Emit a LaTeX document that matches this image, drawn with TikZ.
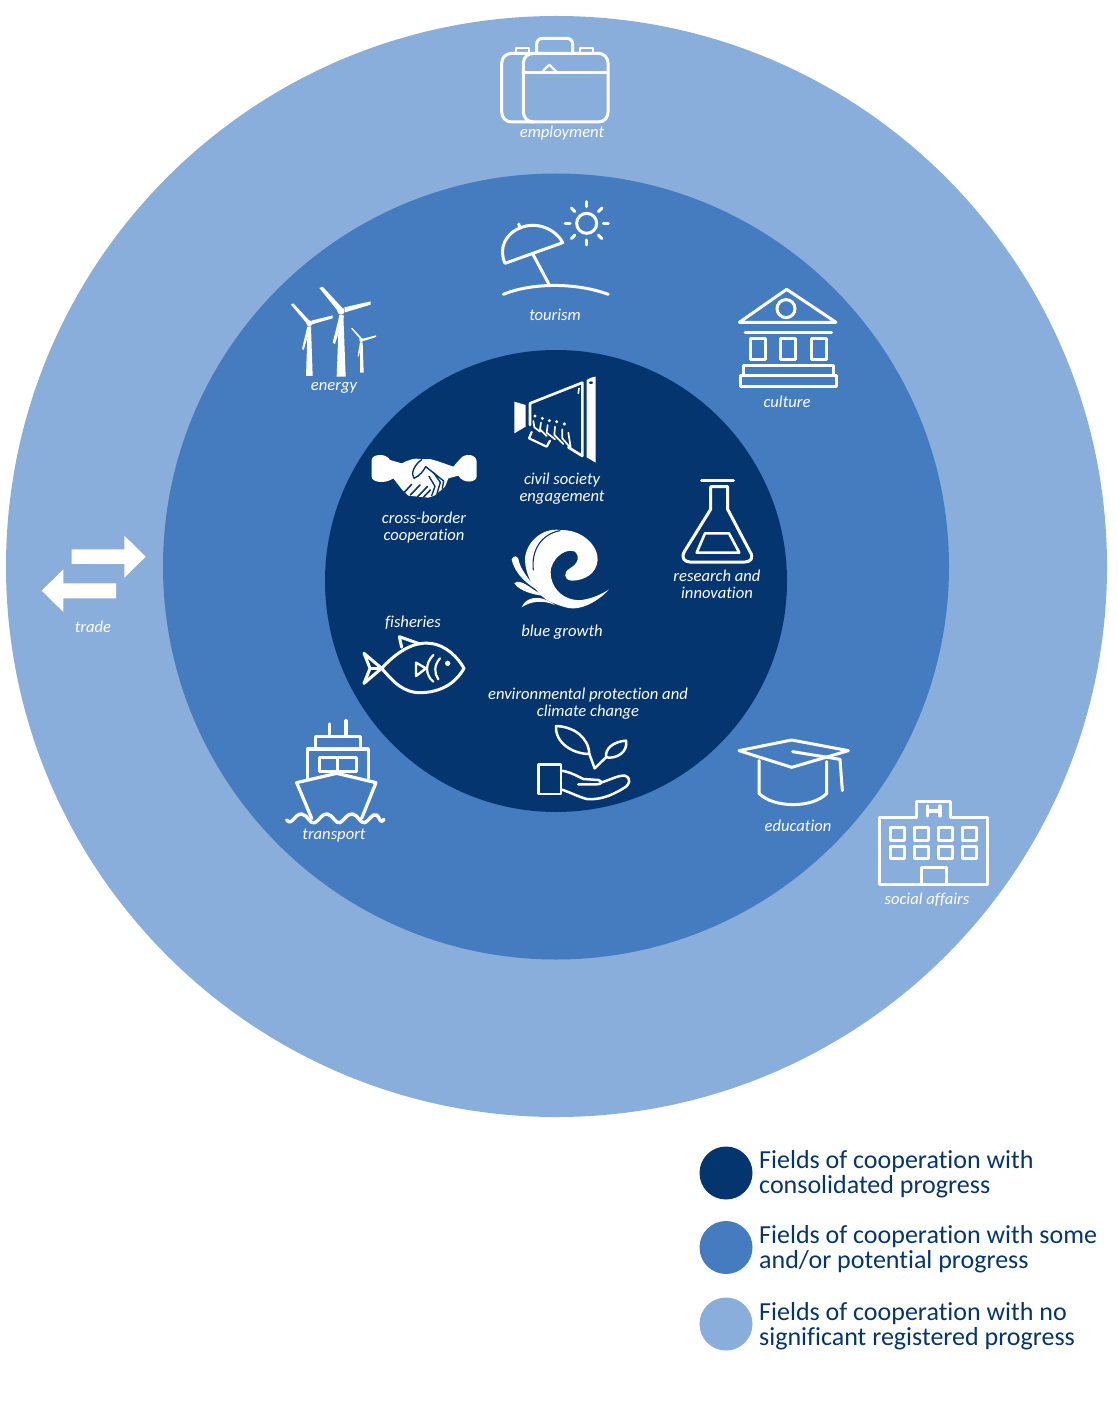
\documentclass[tikz,border=0pt]{standalone}
\usepackage{fontspec}
\setmainfont[Ligatures=NoCommon]{Carlito}
\definecolor{lightb}{HTML}{8AAEDB}
\definecolor{midb}{HTML}{447CBF}
\definecolor{darkb}{HTML}{04356F}
\tikzset{
  icon/.style={draw=white,line width=3pt,line join=round,line cap=round},
  thinicon/.style={draw=white,line width=2.2pt,line join=round,line cap=round},
  cutline/.style={draw=darkb,line width=1.1pt,line cap=round,line join=round},
  lab/.style={text=white,align=center,inner sep=0pt,font=\fontsize{16.6}{17}\selectfont\itshape},
  legtext/.style={text=darkb,align=left,anchor=west,inner sep=0pt,font=\fontsize{26}{25}\selectfont},
  zA/.style={shift={(480,20)},scale=0.33333},
  zB/.style={shift={(350,370)},scale=0.33333},
  zC/.style={shift={(270,600)},scale=0.33333},
  zD/.style={shift={(720,720)},scale=0.33333},
  zE/.style={shift={(20,280)},scale=0.33333},
  zF/.style={shift={(505,520)},scale=0.33333},
  zG/.style={shift={(505,370)},scale=0.33333},
  zH/.style={shift={(365,445)},scale=0.33333},
}
\begin{document}
\begin{tikzpicture}[x=1pt,y=-1pt]
\useasboundingbox (0,0) rectangle (1117,1404);
% rings
\fill[lightb] (556.5,566.5) circle[radius=550.5];
\fill[midb] (556,566.5) circle[radius=393];
\fill[darkb] (556,581) circle[radius=231];

% employment
\begin{scope}[zA]
\draw[icon] (160,306) -- (95,306) .. controls (78,306) and (65,293) .. (65,276) -- (65,130) .. controls (65,113) and (78,100) .. (95,100) -- (160,100);
\draw[icon] (160,100) -- (355,100) .. controls (372,100) and (384,113) .. (384,130) -- (384,276) .. controls (384,293) and (372,306) .. (355,306) -- (160,306) .. controls (143,306) and (130,293) .. (130,276) -- (130,130) .. controls (130,113) and (143,100) .. (160,100) -- cycle;
\draw[icon] (170,100) -- (170,72) .. controls (170,62) and (178,55) .. (188,55) -- (260,55) .. controls (270,55) and (278,62) .. (278,72) -- (278,100);
\draw[thinicon] (108,98) -- (108,84) -- (148,84) -- (148,98);
\draw[thinicon] (300,98) -- (300,84) -- (340,84) -- (340,98);
\draw[icon] (132,157) -- (383,157);
\draw[thinicon] (187,155) -- (208,134) -- (229,155);
\end{scope}
\node[lab] (employment) at (562,133.5) {employment};

% tourism
\begin{scope}[zA]
\draw[icon] (75,730) -- (248,668) .. controls (225,625) and (170,605) .. (125,622) .. controls (75,640) and (55,685) .. (75,730) -- cycle;
\draw[icon] (120,622) -- (116,612);
\draw[icon] (160,705) -- (208,795);
\draw[icon] (70,823) .. controls (150,790) and (280,785) .. (385,823);
\draw[icon] (320,610) circle[radius=30];
\foreach \a in {0,45,...,315}{\draw[icon] (320,610) ++(\a:50) -- ++(\a:15);}
\end{scope}
\node[lab] (tourism) at (555,315) {tourism};

% culture
\begin{scope}[zA]
\draw[icon] (920,808) -- (778,907) -- (1068,907) -- cycle;
\draw[icon] (918,866) circle[radius=27];
\draw[icon] (795,937) -- (1055,937);
\draw[icon] (810,957) rectangle (855,1018);
\draw[icon] (902,957) rectangle (947,1018);
\draw[icon] (995,957) rectangle (1040,1018);
\draw[icon] (790,1067) -- (790,1037) -- (1060,1037) -- (1060,1067);
\draw[icon] (780,1067) rectangle (1070,1100);
\end{scope}
\node[lab] (culture) at (787,402) {culture};

% energy
\begin{scope}[zE]
\fill[white] (950,290) -- (957,105) -- (970,105) -- (977,290) -- cycle;
\fill[white] (898,24) -- (908,20) -- (968,85) -- (955,95) -- cycle;
\fill[white] (1052,64) -- (1052,74) -- (975,97) -- (973,82) -- cycle;
\fill[white] (958,108) -- (972,108) -- (945,192) -- (938,188) -- cycle;
\fill[white] (963,93) circle[radius=11];
\fill[white] (858,288) -- (863,140) -- (873,140) -- (878,288) -- cycle;
\fill[white] (813,74) -- (820,70) -- (868,122) -- (860,130) -- cycle;
\fill[white] (938,106) -- (938,115) -- (876,133) -- (874,122) -- cycle;
\fill[white] (862,140) -- (872,140) -- (851,210) -- (846,207) -- cycle;
\fill[white] (868,130) circle[radius=9];
\fill[white] (1020,278) -- (1021,188) -- (1028,188) -- (1031,278) -- cycle;
\fill[white] (993,145) -- (997,144) -- (1026,175) -- (1022,179) -- cycle;
\fill[white] (1068,166) -- (1068,171) -- (1030,183) -- (1029,176) -- cycle;
\fill[white] (1020,187) -- (1027,187) -- (1016,230) -- (1013,228) -- cycle;
\fill[white] (1024,180) circle[radius=6];
\end{scope}
\node[lab] (energy) at (334,388) {energy};

% trade
\begin{scope}[zE]
\fill[white] (155,808) -- (313,808) -- (313,767) -- (377,830) -- (313,893) -- (313,852) -- (155,852) -- cycle;
\fill[white] (288,910) -- (130,910) -- (130,868) -- (65,932) -- (130,996) -- (130,955) -- (288,955) -- cycle;
\end{scope}
\node[lab] (trade) at (93,627) {trade};

% civil society megaphone
\begin{scope}[zG]
\fill[white] (245,30) .. controls (255,24) and (265,20) .. (272,20) -- (272,278) -- (245,262) -- cycle;
\fill[darkb] (258,38) ellipse[x radius=6,y radius=4];
\fill[white] (28,95) -- (62,105) -- (62,170) -- (28,190) -- cycle;
\draw[icon,line width=2.6pt] (75,165) -- (75,100) -- (232,38) -- (232,258) -- (190,232);
\draw[thinicon,line width=1.6pt] (222,55) -- (220,70);
\draw[thinicon,line width=2.2pt] (80,186) -- (72,205) -- (125,230) -- (135,212);
\foreach \x/\y in {90/138,112/145,133/152,155/155,178/162}{
  \fill[white] (\x,\y) circle[radius=5];
}
\draw[thinicon,line width=1.7pt] (85,153) -- (88,172) -- (105,185)
  (108,158) -- (105,178) -- (125,198) (128,165) -- (125,188) -- (150,208)
  (150,170) -- (148,195) -- (175,222) (172,178) -- (172,205) -- (195,232)
  (190,188) -- (197,232);
\end{scope}
\node[lab] (civil) at (562,488.8) {civil society\\engagement};

% cross-border handshake
\begin{scope}[zH]
\fill[white] (20,45) .. controls (20,28) and (62,22) .. (75,45) -- (110,55) .. controls (130,45) and (150,38) .. (165,42) -- (195,42) .. controls (225,50) and (250,60) .. (265,65) -- (285,42) .. controls (300,22) and (335,28) .. (335,50) -- (335,95) .. controls (335,112) and (295,118) .. (280,92) -- (250,100) -- (240,125) -- (225,138) -- (208,152) -- (190,158) -- (130,152) -- (112,135) -- (85,100) .. controls (60,118) and (20,112) .. (20,95) -- cycle;
\draw[cutline,line width=1.4pt] (170,44) .. controls (150,58) and (135,85) .. (147,100) .. controls (165,92) and (175,78) .. (182,65) -- (236,108) -- (232,130);
\draw[cutline,line width=1.4pt] (205,82) -- (226,112) -- (216,146);
\draw[cutline,line width=1.4pt] (192,94) -- (210,124) -- (200,152);
\draw[cutline,line width=1.6pt] (118,142) -- (140,118) (136,150) -- (165,120) (158,155) -- (188,124) (176,156) -- (196,135);
\end{scope}
\node[lab] (cross) at (424,527.8) {cross-border\\cooperation};

% research flask
\begin{scope}[zB]
\draw[icon,line width=3.4pt] (1055,332) -- (1150,332);
\draw[icon] (1082,350) -- (1082,418) -- (1003,545) .. controls (992,565) and (1005,576) .. (1020,576) -- (1185,576) .. controls (1203,576) and (1212,562) .. (1200,545) -- (1133,418) -- (1133,350) -- cycle;
\draw[icon,line width=2.6pt] (1065,490) -- (1137,490) -- (1168,548) -- (1040,548) -- cycle;
\end{scope}
\node[lab] (research) at (717,584) {research and\\innovation};

% blue growth
\begin{scope}[zF]
\fill[white] (312,208) .. controls (280,245) and (225,272) .. (190,264) .. controls (165,258) and (145,250) .. (125,240) .. controls (90,215) and (62,170) .. (60,120) .. controls (60,70) and (110,22) .. (165,30) .. controls (235,28) and (280,80) .. (278,120) .. controls (275,160) and (240,182) .. (200,182) .. controls (175,180) and (175,155) .. (195,145) .. controls (220,130) and (225,110) .. (210,95) .. controls (185,85) and (150,105) .. (138,145) .. controls (130,200) and (175,245) .. (230,240) .. controls (265,235) and (295,220) .. (312,208) -- cycle;
\draw[cutline] (165,32) .. controls (110,42) and (78,90) .. (85,150);
\fill[white] (20,118) .. controls (25,105) and (40,105) .. (42,125) .. controls (50,155) and (80,190) .. (105,215) .. controls (70,195) and (30,165) .. (20,118) -- cycle;
\fill[white] (28,190) .. controls (35,178) and (60,190) .. (80,205) .. controls (95,215) and (105,222) .. (120,228) .. controls (90,225) and (45,215) .. (28,190) -- cycle;
\fill[white] (50,262) .. controls (60,235) and (100,218) .. (150,255) .. controls (110,238) and (75,245) .. (50,262) -- cycle;
\end{scope}
\node[lab] (blue) at (562,632.5) {blue growth};

% fisheries
\begin{scope}[zC]
\draw[icon] (335,205) .. controls (390,145) and (440,125) .. (480,130) .. controls (530,135) and (565,175) .. (582,205) .. controls (565,235) and (530,275) .. (455,278) .. controls (400,280) and (370,245) .. (335,205) -- cycle;
\draw[icon] (335,205) -- (282,160) -- (300,205) -- (282,250) -- cycle;
\draw[icon] (305,205) -- (335,205);
\draw[icon] (395,142) -- (388,110) -- (450,132);
\draw[thinicon,line width=2.4pt] (438,188) -- (468,205) -- (438,228) -- cycle;
\draw[thinicon,line width=2.2pt] (490,165) .. controls (465,190) and (465,225) .. (490,245);
\draw[thinicon,line width=2.2pt] (510,175) .. controls (492,195) and (492,220) .. (505,238);
\fill[white] (533,190) circle[radius=8];
\end{scope}
\node[lab] (fisheries) at (413,622.5) {fisheries};

% environment plant
\begin{scope}[zC]
\draw[thinicon,line width=2.5pt] (858,378) .. controls (910,380) and (955,410) .. (958,462) .. controls (910,462) and (855,430) .. (858,378) -- cycle;
\draw[thinicon,line width=2.5pt] (1068,422) .. controls (1030,425) and (1005,445) .. (1008,472) .. controls (1040,478) and (1075,455) .. (1068,422) -- cycle;
\draw[thinicon,line width=2.5pt] (958,462) -- (974,505) -- (1008,472);
\draw[thinicon,line width=2.5pt] (805,493) rectangle (873,582);
\draw[thinicon,line width=2.5pt] (873,512) .. controls (900,515) and (925,530) .. (940,537) -- (985,540) .. controls (1000,545) and (995,553) .. (980,553) -- (925,553);
\draw[thinicon,line width=2.5pt] (992,548) .. controls (1020,540) and (1045,525) .. (1065,527) .. controls (1085,535) and (1080,555) .. (1060,565) .. controls (1020,590) and (985,600) .. (950,597) .. controls (925,590) and (895,575) .. (873,568);
\end{scope}
\node[lab] (env) at (588,703.5) {environmental protection and\\climate change};

% transport
\begin{scope}[zC]
\draw[icon,line width=3.2pt] (178,408) -- (178,372);
\draw[icon,line width=3.2pt] (228,408) -- (228,362);
\draw[icon] (135,445) -- (135,410) -- (270,410) -- (270,445);
\draw[icon,line width=3.2pt] (112,535) -- (112,447) -- (295,447) -- (295,535);
\draw[icon] (148,473) rectangle (258,515);
\draw[icon] (203,473) -- (203,515);
\draw[icon,line width=3.2pt] (125,655) -- (80,548) -- (200,520) -- (318,548) -- (275,655);
\draw[icon,line width=3.4pt] (50,660) .. controls (65,680) and (75,640) .. (95,642) .. controls (115,645) and (120,675) .. (135,668) .. controls (150,660) and (155,640) .. (172,642) .. controls (190,645) and (195,672) .. (210,668) .. controls (225,660) and (230,640) .. (248,642) .. controls (265,645) and (270,672) .. (285,668) .. controls (300,660) and (305,640) .. (320,645) .. controls (330,652) and (330,675) .. (342,658);
\end{scope}
\node[lab] (transport) at (334,836) {transport};

% education
\begin{scope}[zD]
\draw[icon] (57,92) -- (215,60) -- (385,92) -- (215,142) -- cycle;
\draw[icon] (218,95) -- (360,118) -- (367,212);
\draw[icon] (117,122) -- (117,220) .. controls (160,265) and (280,265) .. (320,220) -- (320,125);
\end{scope}
\node[lab] (education) at (798,825.5) {education};

% social affairs
\begin{scope}[zD]
\draw[icon] (590,292) -- (478,292) -- (478,492) -- (803,492) -- (803,292) -- (690,292) -- (690,243) -- (590,243) -- cycle;
\draw[icon,line width=3.2pt] (622,258) -- (622,288) (660,258) -- (660,288);
\draw[icon,line width=4pt,line cap=butt] (622,273) -- (660,273);
\foreach \x in {510,582,655,727}{
  \draw[icon] (\x,322) rectangle ++(42,38);
  \draw[icon] (\x,378) rectangle ++(42,38);
}
\draw[icon] (603,492) -- (603,443) -- (680,443) -- (680,492);
\end{scope}
\node[lab] (social) at (927,900) {social affairs};

% legend
\fill[darkb] (726,1173) circle[radius=26.5];
\fill[midb] (726,1247.5) circle[radius=26.5];
\fill[lightb] (726,1324) circle[radius=26.5];
\node[legtext] (leg1) at (759,1174) {Fields of cooperation with\\consolidated progress};
\node[legtext] (leg2) at (759,1249.5) {Fields of cooperation with some\\and/or potential progress};
\node[legtext] (leg3) at (759,1326) {Fields of cooperation with no\\significant registered progress};
\end{tikzpicture}
\end{document}
